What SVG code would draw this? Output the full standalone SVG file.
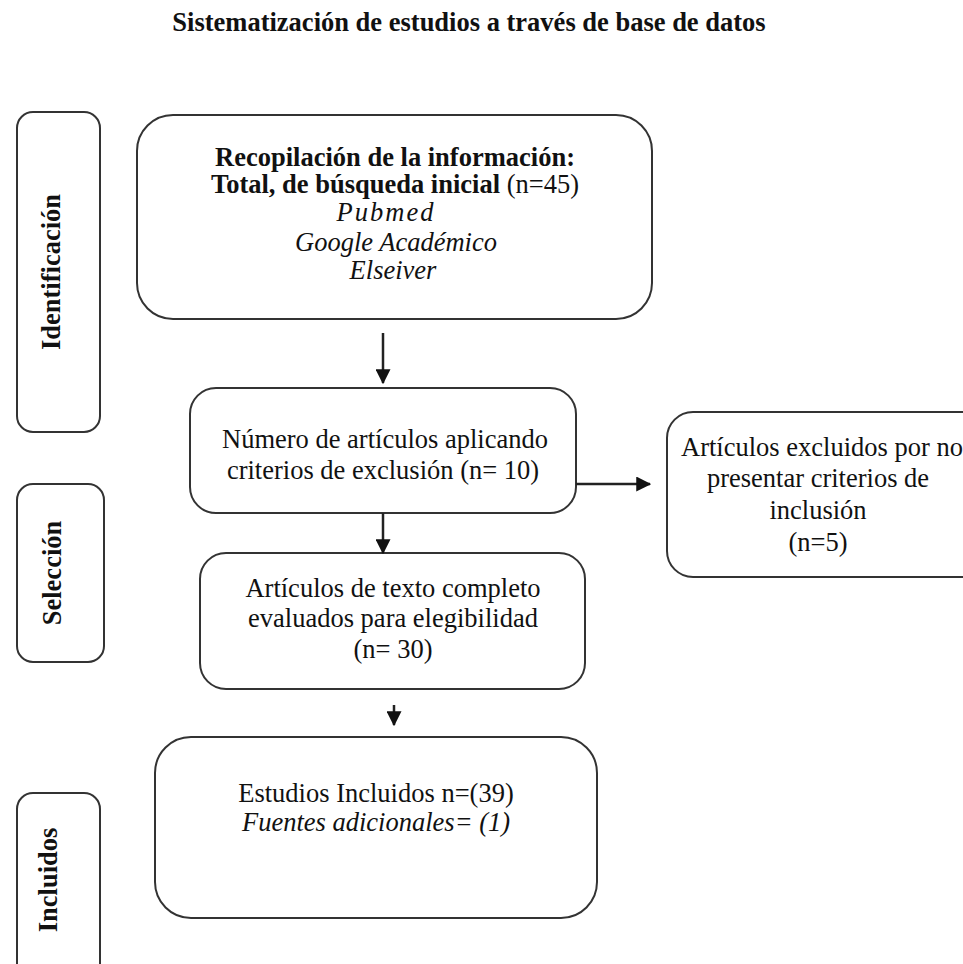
<svg xmlns="http://www.w3.org/2000/svg" width="963" height="964" viewBox="0 0 963 964">
<style>
.box{fill:#fff;stroke:#333;stroke-width:2}
.t{font-family:"Liberation Serif","Times New Roman",serif;font-size:26.5px;fill:#111;text-anchor:middle}
.b{font-weight:bold}
.i{font-style:italic}
.c{stroke:#222;stroke-width:2.5;fill:none}
</style>
<defs>
<marker id="ah" markerWidth="6" markerHeight="6" refX="5.5" refY="3" orient="auto" markerUnits="strokeWidth">
<path d="M0,0 L6,3 L0,6 Z" fill="#111"/>
</marker>
</defs>
<rect width="963" height="964" fill="#fff"/>
<text class="t b" x="469" y="31" font-size="28">Sistematización de estudios a través de base de datos</text>

<g id="identificacion">
<rect class="box" x="17" y="112" width="83" height="320" rx="16"/>
<text class="t b" transform="translate(59.5,272) rotate(-90)" font-size="27">Identificación</text>
</g>
<g id="seleccion">
<rect class="box" x="17" y="484" width="87" height="178" rx="16"/>
<text class="t b" transform="translate(61,573) rotate(-90)" font-size="27">Selección</text>
</g>
<g id="incluidos">
<rect class="box" x="17" y="793" width="83" height="190" rx="16"/>
<text class="t b" transform="translate(57,880) rotate(-90)" font-size="27">Incluidos</text>
</g>

<g id="recopilacion">
<rect class="box" x="137" y="115" width="515" height="204" rx="36"/>
<text class="t b" x="395" y="166">Recopilación de la información:</text>
<text class="t" x="395" y="193"><tspan class="b">Total, de búsqueda inicial</tspan> (n=45)</text>
<text class="t i" x="386" y="221" letter-spacing="2">Pubmed</text>
<text class="t i" x="396" y="251">Google Académico</text>
<text class="t i" x="393" y="279">Elseiver</text>
</g>

<g id="exclusion">
<rect class="box" x="190" y="388" width="386" height="125" rx="26"/>
<text class="t" x="385" y="448">Número de artículos aplicando</text>
<text class="t" x="383" y="479">criterios de exclusión (n= 10)</text>
</g>

<g id="excluidos">
<rect class="box" x="667" y="412" width="320" height="165" rx="26"/>
<text class="t" x="822" y="456">Artículos excluidos por no</text>
<text class="t" x="818" y="487">presentar criterios de</text>
<text class="t" x="818" y="519">inclusión</text>
<text class="t" x="818" y="551">(n=5)</text>
</g>

<g id="texto-completo">
<rect class="box" x="200" y="553" width="385" height="136" rx="26"/>
<text class="t" x="393" y="597">Artículos de texto completo</text>
<text class="t" x="393" y="627">evaluados para elegibilidad</text>
<text class="t" x="393" y="658">(n= 30)</text>
</g>

<g id="estudios">
<rect class="box" x="155" y="737" width="442" height="181" rx="36"/>
<text class="t" x="376" y="802">Estudios Incluidos n=(39)</text>
<text class="t i" x="376" y="831">Fuentes adicionales= (1)</text>
</g>

<g id="connectors">
<line class="c" x1="383" y1="333" x2="383" y2="383" marker-end="url(#ah)"/>
<line class="c" x1="576" y1="484" x2="650" y2="484" marker-end="url(#ah)"/>
<line class="c" x1="383" y1="513" x2="383" y2="553" marker-end="url(#ah)"/>
<line class="c" x1="394" y1="705" x2="394" y2="725" marker-end="url(#ah)"/>
</g>
</svg>
